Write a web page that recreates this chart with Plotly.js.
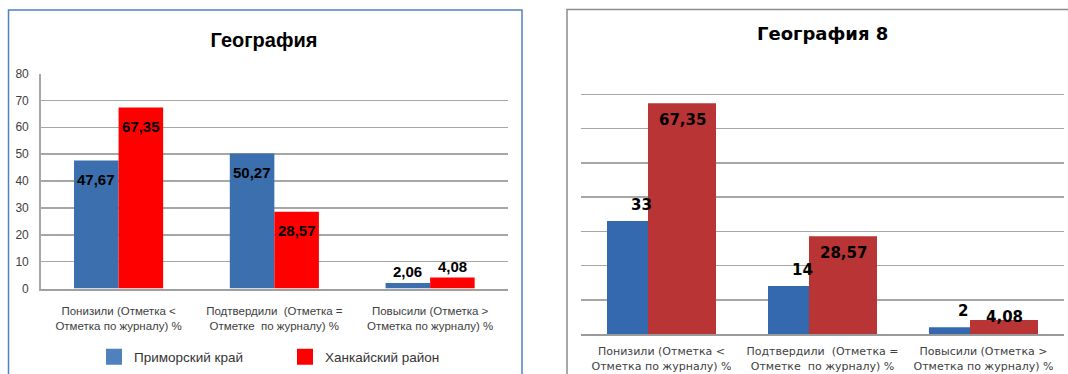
<!DOCTYPE html>
<html>
<head>
<meta charset="utf-8">
<script src="https://cdn.plot.ly/plotly-3.0.1.min.js"></script>
<style>html,body{margin:0;padding:0;background:#fff;}#chart{width:1068px;height:374px;}</style>
</head>
<body>
<div id="chart"></div>
<script>
// ---- data ----
const categories = [
  'Понизили (Отметка &lt;<br>Отметка по журналу) %',
  'Подтвердили  (Отметка =<br>Отметке  по журналу) %',
  'Повысили (Отметка &gt;<br>Отметка по журналу) %'
];
const seriesNames = ['Приморский край', 'Ханкайский район'];
const geoPrimorsky = [47.67, 50.27, 2.06];
const geoKhanka = [67.35, 28.57, 4.08];
const geo8Primorsky = [33, 14, 2];
const geo8Khanka = [67.35, 28.57, 4.08];
const yTickVals = [0, 10, 20, 30, 40, 50, 60, 70, 80];
const titleLeft = 'География';
const titleRight = 'География 8';

// ---- helpers ----
const W = 1068, H = 374;
const px = v => v / W;
const py = v => 1 - v / H;
const fmt = v => Number.isInteger(v) ? String(v) : v.toFixed(2).replace('.', ',');

const lib = 'Liberation Sans, Arial, sans-serif';
const dejavu = 'DejaVu Sans, Verdana, sans-serif';

// left chart geometry
const LW = 0.286;
// right chart geometry
const RW = 0.4224, RB_OFF = -0.3385, RR_OFF = -0.0839;

const traces = [
  {type: 'bar', name: seriesNames[0], x: categories, y: geoPrimorsky, xaxis: 'x', yaxis: 'y',
   width: LW, offset: -LW, marker: {color: '#3c6fae'}, showlegend: false, hoverinfo: 'none'},
  {type: 'bar', name: seriesNames[1], x: categories, y: geoKhanka, xaxis: 'x', yaxis: 'y',
   width: LW, offset: 0, marker: {color: '#ff0000'}, showlegend: false, hoverinfo: 'none'},
  {type: 'bar', name: seriesNames[0], x: categories, y: geo8Primorsky, xaxis: 'x2', yaxis: 'y2',
   width: RW, offset: RB_OFF, marker: {color: '#3469b0'}, showlegend: false, hoverinfo: 'none'},
  {type: 'bar', name: seriesNames[1], x: categories, y: geo8Khanka, xaxis: 'x2', yaxis: 'y2',
   width: RW, offset: RR_OFF, marker: {color: '#b93434'}, showlegend: false, hoverinfo: 'none'},
  // legend entries for the left chart (larger square swatches)
  {type: 'scatter', mode: 'markers', name: seriesNames[0], x: [null], y: [null], xaxis: 'x', yaxis: 'y',
   marker: {symbol: 'square', size: 22, color: '#4f81bd'}, showlegend: true, hoverinfo: 'none'},
  {type: 'scatter', mode: 'markers', name: seriesNames[1], x: [null], y: [null], xaxis: 'x', yaxis: 'y',
   marker: {symbol: 'square', size: 22, color: '#ff0000'}, showlegend: true, hoverinfo: 'none'}
];

const annotations = [];
geoPrimorsky.forEach((v, i) => annotations.push({
  xref: 'x', yref: 'y', x: i - LW / 2, y: v, yshift: v > 10 ? -19 : 11, text: fmt(v),
  showarrow: false, font: {family: lib, size: 15, weight: 700, color: '#000'}
}));
geoKhanka.forEach((v, i) => annotations.push({
  xref: 'x', yref: 'y', x: i + LW / 2, y: v, yshift: v > 10 ? -19 : 11, text: fmt(v),
  showarrow: false, font: {family: lib, size: 15, weight: 700, color: '#000'}
}));
geo8Primorsky.forEach((v, i) => annotations.push({
  xref: 'x2', yref: 'y2', x: i + RB_OFF + RW / 2, y: v, yshift: 16, text: fmt(v),
  showarrow: false, font: {family: dejavu, size: 15, weight: 700, color: '#000'}
}));
geo8Khanka.forEach((v, i) => annotations.push({
  xref: 'x2', yref: 'y2', x: i + RR_OFF + RW / 2, y: v, yshift: v > 10 ? -17 : 3, text: fmt(v),
  showarrow: false, font: {family: dejavu, size: 15, weight: 700, color: '#000'}
}));
annotations.push({
  xref: 'paper', yref: 'paper', x: px(822), y: py(33), xanchor: 'center', yanchor: 'middle',
  text: titleRight, showarrow: false, font: {family: dejavu, size: 18, weight: 700, color: '#000'}
});

const layout = {
  width: W, height: H,
  margin: {l: 0, r: 0, t: 0, b: 0},
  paper_bgcolor: '#fff', plot_bgcolor: '#fff',
  barmode: 'overlay',
  title: {text: titleLeft, x: px(264), xanchor: 'center', y: py(40), yanchor: 'middle',
          font: {family: lib, size: 20, weight: 700, color: '#000'}},
  xaxis: {type: 'category', domain: [px(40.7), px(508)], range: [-0.5, 2.5], anchor: 'y',
          showline: true, linecolor: '#a0a0a0', linewidth: 2, ticks: '', tickangle: 0, ticklabelstandoff: 11,
          tickfont: {family: lib, size: 11.5, color: '#404040'}, fixedrange: true},
  yaxis: {domain: [py(288.5), py(73.5)], range: [0, 80], anchor: 'x',
          tickvals: yTickVals, showgrid: true, gridcolor: '#a6a6a6', gridwidth: 1.5,
          zeroline: false, showline: true, linecolor: '#a6a6a6', linewidth: 1.5, ticks: '',
          ticklabelstandoff: 8, tickfont: {family: lib, size: 12, color: '#404040'},
          fixedrange: true},
  xaxis2: {type: 'category', domain: [px(581), px(1064)], range: [-0.5, 2.5], anchor: 'y2',
           showline: true, linecolor: '#9a9a9a', linewidth: 2, ticks: '', tickangle: 0, ticklabelstandoff: 6,
           tickfont: {family: dejavu, size: 11, color: '#404040'}, fixedrange: true},
  yaxis2: {domain: [py(334), py(60)], range: [0, 80], anchor: 'x2',
           tickvals: yTickVals, showgrid: true, gridcolor: '#a6a6a6', gridwidth: 1.5,
           zeroline: false, showline: false, showticklabels: false, ticks: '', fixedrange: true},
  legend: {orientation: 'h', x: px(94), xanchor: 'left', y: py(357), yanchor: 'middle',
           font: {family: lib, size: 13.5, color: '#333'}, entrywidth: 146, entrywidthmode: 'pixels',
           itemsizing: 'trace',
           bgcolor: 'rgba(0,0,0,0)', itemclick: false, itemdoubleclick: false},
  annotations: annotations,
  shapes: [
    {type: 'rect', xref: 'paper', yref: 'paper', x0: px(8.5), x1: px(522), y0: -0.1, y1: py(10),
     line: {color: '#4f81bd', width: 1.5}, fillcolor: 'rgba(0,0,0,0)', layer: 'below'},
    {type: 'rect', xref: 'paper', yref: 'paper', x0: px(567), x1: 1.05, y0: -0.1, y1: py(9.5),
     line: {color: '#8c8c8c', width: 1.5}, fillcolor: 'rgba(0,0,0,0)', layer: 'below'}
  ],
  showlegend: true
};

Plotly.newPlot('chart', traces, layout, {displayModeBar: false, staticPlot: true});
</script>
</body>
</html>
